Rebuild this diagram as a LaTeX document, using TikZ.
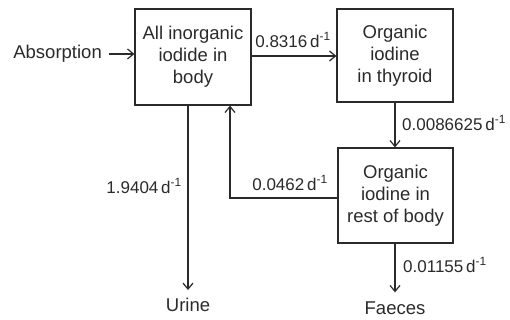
\documentclass[tikz,border=0pt]{standalone}
\usepackage{fontspec}
\setmainfont{Liberation Sans}
\usetikzlibrary{arrows.meta}
\definecolor{ink}{HTML}{2A2A2A}
\tikzset{
  box/.style={draw=ink, line width=1.2pt, align=center, font=\fontsize{18.5}{22}\selectfont, text=ink, inner sep=0pt},
  lbl/.style={font=\fontsize{17}{20}\selectfont, text=ink, inner sep=1pt},
  txt/.style={font=\fontsize{18.5}{22}\selectfont, text=ink, inner sep=1pt},
  flow/.style={draw=ink, line width=1.2pt, -{Straight Barb[length=6pt,width=10pt,line width=1.2pt]}},
  conn/.style={draw=ink, line width=1.2pt}
}
\newcommand{\rate}[1]{#1\,d\textsuperscript{-1}}
\begin{document}
\begin{tikzpicture}[x=1pt,y=-1pt]
\useasboundingbox (0,0) rectangle (510,320);
\node[box, minimum width=116pt, minimum height=96pt] (b1) at (193,57) {All inorganic\\iodide in\\body};
\node[box, minimum width=116pt, minimum height=93pt] (b2) at (395,55.5) {Organic\\iodine\\in thyroid};
\node[box, minimum width=115pt, minimum height=95pt] (b3) at (395.5,195.5) {Organic\\iodine in\\rest of body};
\node[txt, anchor=east] (abs) at (103,54) {Absorption};
\node[txt] (urine) at (188,305) {Urine};
\node[txt] (faeces) at (395,308) {Faeces};
\coordinate (ret) at (230,198);
% connectors
\draw[flow, shorten <=6pt] (abs.east) -- (abs.east -| b1.west);
\draw[flow] (b1.east |- 0,56) -- (b2.west |- 0,56);
\draw[flow] (b2.south -| 395,0) -- (b3.north -| 395,0);
\draw[flow] (b1.south -| urine) -- (urine.north) [shorten >=7pt];
\draw[flow] (b3.south -| faeces) -- (faeces.north) [shorten >=8pt];
\draw[flow] (b3.west |- ret) -- (ret) -- (ret |- b1.south);
% labels
\node[lbl] (l1) at (293,40) {\rate{0.8316}};
\node[lbl, anchor=west] (l2) at (401,123) {\rate{0.0086625}};
\node[lbl, anchor=east] (l3) at (183,186) {\rate{1.9404}};
\node[lbl] (l4) at (290,183) {\rate{0.0462}};
\node[lbl, anchor=west] (l5) at (402,265) {\rate{0.01155}};
\end{tikzpicture}
\end{document}
